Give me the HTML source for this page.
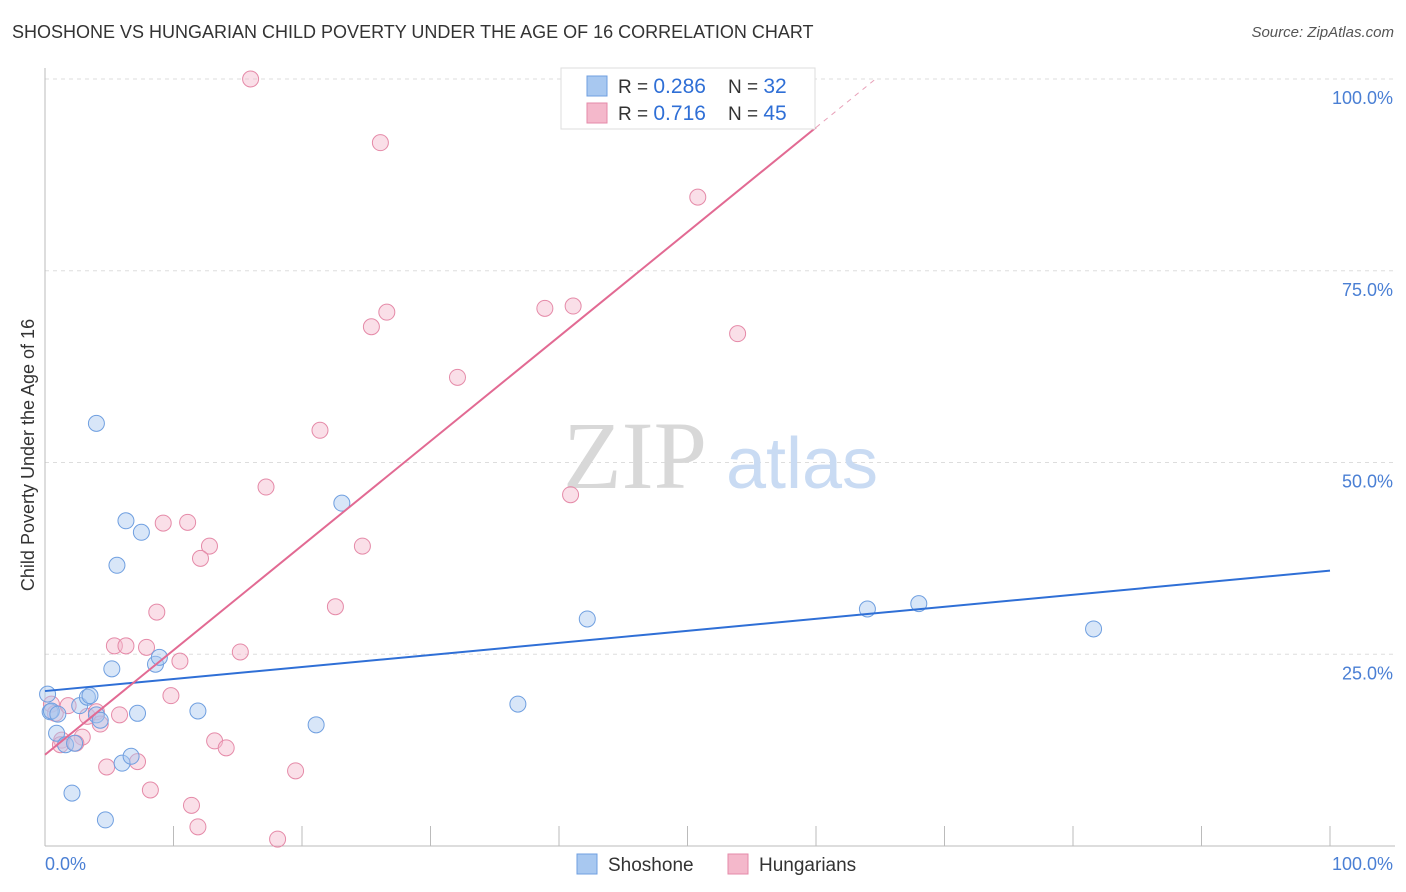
<!DOCTYPE html>
<html><head><meta charset="utf-8"><style>
body{margin:0;background:#fff;font-family:"Liberation Sans",sans-serif;}
#wrap{position:relative;width:1406px;height:892px;overflow:hidden;}
.t{position:absolute;white-space:nowrap;}
</style></head><body>
<div id="wrap">
<div class="t" style="left:12px;top:22px;font-size:18px;color:#333;">SHOSHONE VS HUNGARIAN CHILD POVERTY UNDER THE AGE OF 16 CORRELATION CHART</div>
<div class="t" style="right:12px;top:24px;font-size:15px;color:#555;font-style:italic;">Source: ZipAtlas.com</div>
<svg id="svg" width="1406" height="892" style="position:absolute;left:0;top:0"></svg>
</div>
<script>
const blueX=[0.2,0.4,0.5,1.0,0.9,1.6,2.3,2.1,2.7,3.3,3.5,4.0,4.0,4.3,4.7,5.2,5.6,6.0,6.3,6.7,7.2,7.5,8.6,8.9,11.9,21.1,23.1,36.8,42.2,64.0,68.0,81.6];
const blueY=[19.8,17.5,17.6,17.2,14.7,13.2,13.4,6.9,18.3,19.4,19.6,55.1,17.1,16.4,3.4,23.1,36.6,10.8,42.4,11.7,17.3,40.9,23.7,24.6,17.6,15.8,44.7,18.5,29.6,30.9,31.6,28.3];
const pinkX=[16.0,26.1,50.8,26.6,25.4,38.9,41.1,53.9,32.1,21.4,17.2,40.9,9.2,11.1,12.8,12.1,24.7,22.6,8.7,5.4,6.3,7.9,10.5,15.2,9.8,0.5,0.8,1.8,3.3,4.0,4.3,5.8,2.9,1.3,1.2,2.4,4.8,7.2,8.2,11.4,11.9,13.2,14.1,19.5,18.1];
const pinkY=[100,91.7,84.6,69.6,67.7,70.1,70.4,66.8,61.1,54.2,46.8,45.8,42.1,42.2,39.1,37.5,39.1,31.2,30.5,26.1,26.1,25.9,24.1,25.3,19.6,18.5,17.3,18.3,16.9,17.5,15.9,17.1,14.2,13.8,13.2,13.4,10.3,11.0,7.3,5.3,2.5,13.7,12.8,9.8,0.9];
const blueLine=[20.2,35.9];
const pinkLine=[11.9,1.363];
const yTicks=[25,50,75,100];
const yTickLabels=["25.0%","50.0%","75.0%","100.0%"];
const xTicks=[0,10,20,30,40,50,60,70,80,90,100];

const NS="http://www.w3.org/2000/svg";
const svg=document.getElementById('svg');
const X=v=>45+v*12.85, Y=v=>846-v*7.67;
function mk(tag,a,p){const e=document.createElementNS(NS,tag);for(const k in a)e.setAttribute(k,a[k]);(p||svg).appendChild(e);return e;}

yTicks.forEach((t,i)=>{
 const g=mk('line',{x1:45,x2:1395,y1:Y(t),y2:Y(t),stroke:'#ddd','stroke-dasharray':'4,4'});
 
 
 const tx=mk('text',{x:1393,y:Y(t)+25,'text-anchor':'end','font-size':18,fill:'#4a7fd4','font-family':'Liberation Sans'});
 tx.textContent=yTickLabels[i];
 
 
});
const ax=mk('line',{x1:45,x2:45,y1:68,y2:846,stroke:'#bbb'});


const bx=mk('line',{x1:45,x2:1395,y1:846,y2:846,stroke:'#bbb'});


xTicks.forEach(t=>{
 const l=mk('line',{x1:X(t),x2:X(t),y1:826,y2:846,stroke:'#bbb'});
 
 
});
[[0,"0.0%",'start',45],[100,"100.0%",'end',1393]].forEach(([v,s,a,x])=>{
 const t=mk('text',{x:x,y:870,'text-anchor':a,'font-size':18,fill:'#4a7fd4','font-family':'Liberation Sans'});
 t.textContent=s;
 
 
});
const yl=mk('text',{transform:'translate(34,455) rotate(-90)','text-anchor':'middle','font-size':18,fill:'#333','font-family':'Liberation Sans'});
yl.textContent='Child Poverty Under the Age of 16';



const w1=mk('text',{x:635,y:488,'text-anchor':'middle','font-size':96,fill:'#d8d8d8','font-family':'Liberation Serif'});
w1.textContent='ZIP';


const w2=mk('text',{x:802,y:488,'text-anchor':'middle','font-size':72,fill:'#c9dbf3','font-family':'Liberation Sans'});
w2.textContent='atlas';



function dots(xs,ys,fill,stroke,name){
 xs.forEach((x,i)=>{
  const c=mk('circle',{cx:X(x),cy:Y(ys[i]),r:8,fill:fill,'fill-opacity':0.45,stroke:stroke,'stroke-width':1});
  
  
 });
}
dots(pinkX,pinkY,'#f4b8cb','#e58aa8','hungarian-point');
dots(blueX,blueY,'#a8c8f0','#6f9fe0','shoshone-point');

const bl=mk('line',{x1:X(0),y1:Y(blueLine[0]),x2:X(100),y2:Y(blueLine[1]),stroke:'#2f6fd6','stroke-width':2});


const xs=60, xe=(100-pinkLine[0])/pinkLine[1];
const pl=mk('line',{x1:X(0),y1:Y(pinkLine[0]),x2:X(xs),y2:Y(pinkLine[0]+pinkLine[1]*xs),stroke:'#e26a93','stroke-width':2});


const pd=mk('line',{x1:X(xs),y1:Y(pinkLine[0]+pinkLine[1]*xs),x2:X(xe),y2:Y(100),stroke:'#e8a0b8','stroke-width':1,'stroke-dasharray':'5,5'});



// legend box
const lg=mk('g',{});


mk('rect',{x:561,y:68,width:254,height:61,fill:'#fff',stroke:'#ddd'},lg);
[[86,'#a8c8f0','#6f9fe0','0.286','32'],[113,'#f4b8cb','#e58aa8','0.716','45']].forEach(([y,f,s,r,n])=>{
 mk('rect',{x:587,y:y-10,width:20,height:20,fill:f,stroke:s},lg);
 const t=mk('text',{x:618,y:y+7,'font-size':19,fill:'#333','font-family':'Liberation Sans'},lg);
 t.innerHTML='R = <tspan fill="#2f6fd6" font-size="21">'+r+'</tspan><tspan x="728">N = </tspan><tspan fill="#2f6fd6" font-size="21">'+n+'</tspan>';
});
// bottom legend
[[577,'#a8c8f0','#6f9fe0','Shoshone','legend-shoshone'],[728,'#f4b8cb','#e58aa8','Hungarians','legend-hungarians']].forEach(([x,f,s,l,nm])=>{
 const g=mk('g',{});
 
 
 mk('rect',{x:x,y:854,width:20,height:20,fill:f,stroke:s},g);
 const t=mk('text',{x:x+31,y:871,'font-size':19,fill:'#333','font-family':'Liberation Sans'},g);
 t.textContent=l;
});
</script>
</body></html>
